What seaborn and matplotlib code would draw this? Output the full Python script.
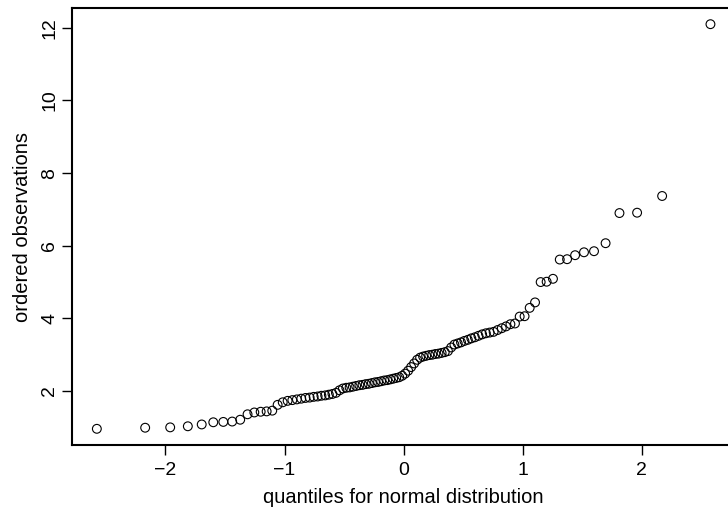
import matplotlib
matplotlib.use("Agg")
import matplotlib.pyplot as plt
import seaborn as sns
import pandas as pd

# theoretical normal quantiles (ppoints, n = 100)
quantiles_neg = [-2.5758, -2.1701, -1.9600, -1.8119, -1.6954, -1.5982, -1.5141, -1.4395,
                 -1.3722, -1.3106, -1.2536, -1.2004, -1.1503, -1.1031, -1.0581, -1.0152,
                 -0.9741, -0.9346, -0.8964, -0.8596, -0.8239, -0.7892, -0.7554, -0.7225,
                 -0.6903, -0.6588, -0.6280, -0.5978, -0.5681, -0.5388, -0.5101, -0.4817,
                 -0.4538, -0.4261, -0.3989, -0.3719, -0.3451, -0.3186, -0.2924, -0.2663,
                 -0.2404, -0.2147, -0.1891, -0.1637, -0.1383, -0.1130, -0.0878, -0.0627,
                 -0.0376, -0.0125]
quantiles_pos = [0.0125, 0.0376, 0.0627, 0.0878, 0.1130, 0.1383, 0.1637, 0.1891,
                 0.2147, 0.2404, 0.2663, 0.2924, 0.3186, 0.3451, 0.3719, 0.3989,
                 0.4261, 0.4538, 0.4817, 0.5101, 0.5388, 0.5681, 0.5978, 0.6280,
                 0.6588, 0.6903, 0.7225, 0.7554, 0.7892, 0.8239, 0.8596, 0.8964,
                 0.9346, 0.9741, 1.0152, 1.0581, 1.1031, 1.1503, 1.2004, 1.2536,
                 1.3106, 1.3722, 1.4395, 1.5141, 1.5982, 1.6954, 1.8119, 1.9600,
                 2.1701, 2.5758]

# ordered observations
obs_low = [0.96, 0.99, 1.00, 1.03, 1.08, 1.14, 1.15, 1.16, 1.21, 1.36,
           1.41, 1.43, 1.44, 1.46, 1.62, 1.69, 1.73, 1.75, 1.77, 1.79,
           1.81, 1.82, 1.84, 1.85, 1.87, 1.88, 1.90, 1.92, 1.95, 2.02,
           2.07, 2.09, 2.10, 2.12, 2.14, 2.16, 2.17, 2.19, 2.20, 2.22,
           2.24, 2.25, 2.27, 2.29, 2.30, 2.32, 2.34, 2.36, 2.38, 2.42]
obs_high = [2.48, 2.56, 2.66, 2.76, 2.86, 2.92, 2.95, 2.97, 2.99, 3.00,
            3.02, 3.03, 3.05, 3.07, 3.10, 3.20, 3.28, 3.31, 3.34, 3.38,
            3.41, 3.45, 3.48, 3.52, 3.56, 3.59, 3.61, 3.63, 3.68, 3.73,
            3.78, 3.84, 3.86, 4.05, 4.06, 4.29, 4.44, 5.00, 5.01, 5.09,
            5.62, 5.63, 5.74, 5.82, 5.85, 6.07, 6.90, 6.91, 7.37, 12.10]

x_ticks = [-2, -1, 0, 1, 2]
y_ticks = [2, 4, 6, 8, 10, 12]
x_label = "quantiles for normal distribution"
y_label = "ordered observations"

df = pd.DataFrame({"q": quantiles_neg + quantiles_pos,
                   "obs": obs_low + obs_high})

sns.set_theme(style="white")
plt.rcParams["font.family"] = ["Liberation Sans", "DejaVu Sans"]

fig = plt.figure(figsize=(7.28, 5.16), dpi=100)
ax = fig.add_axes([72.3 / 728, (516 - 445) / 516, (735 - 72.3) / 728, (445 - 8) / 516])

sns.scatterplot(data=df, x="q", y="obs", ax=ax, marker="o", s=40,
                facecolor="none", edgecolor="black", linewidth=0.8, legend=False)

xr = df["q"].max() - df["q"].min()
yr = df["obs"].max() - df["obs"].min()
ax.set_xlim(df["q"].min() - 0.04 * xr, df["q"].max() + 0.04 * xr)
ax.set_ylim(df["obs"].min() - 0.04 * yr, df["obs"].max() + 0.04 * yr)

ax.set_xticks(x_ticks)
ax.set_xticklabels(["\u2212" + str(-t) if t < 0 else str(t) for t in x_ticks])
ax.set_yticks(y_ticks)
ax.set_yticklabels([str(t) for t in y_ticks], rotation=90, va="center")

ax.tick_params(axis="x", which="both", direction="out", length=7, width=1,
               color="black", labelsize=14, labelcolor="black", pad=5, bottom=True)
ax.tick_params(axis="y", which="both", direction="out", length=7, width=1,
               color="black", labelsize=14, labelcolor="black", pad=3, left=True)
for side in ["left", "bottom", "top", "right"]:
    ax.spines[side].set_visible(True)
    ax.spines[side].set_color("black")
    ax.spines[side].set_linewidth(1.5)

ax.set_xlabel(x_label, fontsize=14.5, color="black", labelpad=7)
ax.set_ylabel(y_label, fontsize=14.5, color="black", labelpad=7)

fig.savefig("out.png", dpi=100)
